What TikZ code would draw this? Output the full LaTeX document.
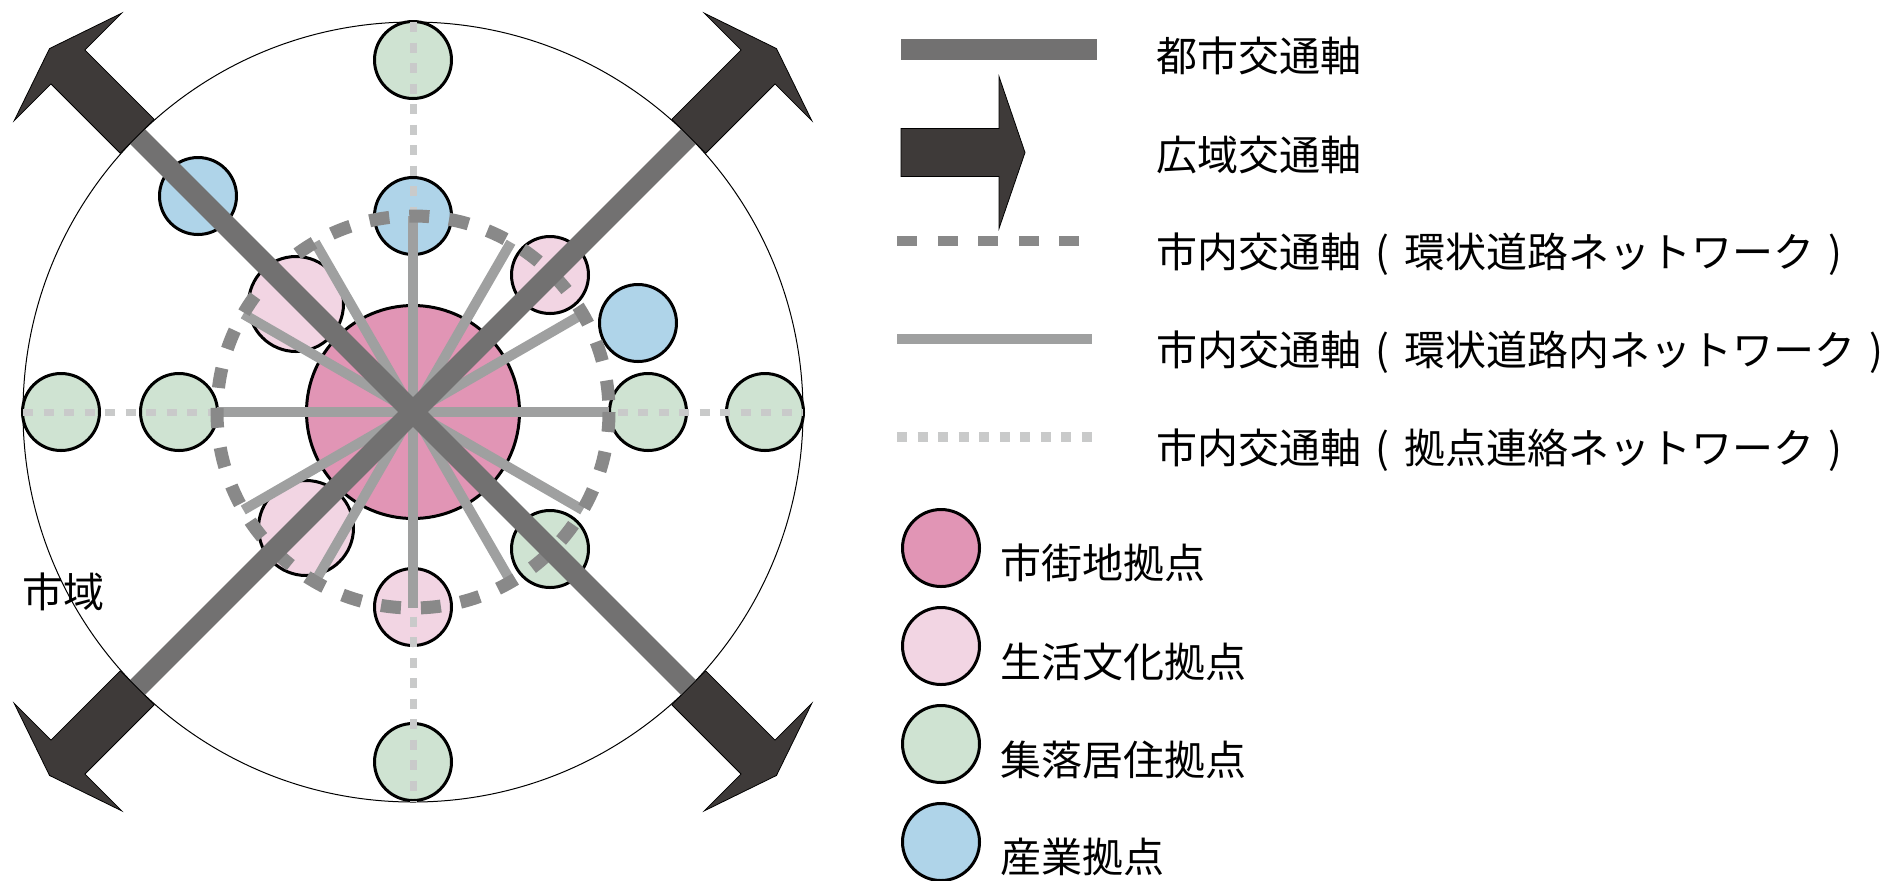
\documentclass[tikz,border=0pt]{standalone}
\usepackage{fontspec}
\newfontfamily\jpfont{Noto Sans CJK JP}
\definecolor{hubpink}{HTML}{E195B5}
\definecolor{lifepink}{HTML}{F2D5E3}
\definecolor{villagegreen}{HTML}{CFE3D2}
\definecolor{industryblue}{HTML}{AFD4E9}
\definecolor{arrowdark}{HTML}{3E3A39}
\definecolor{axisgray}{HTML}{727171}
\definecolor{spokegray}{HTML}{9FA0A0}
\definecolor{ringgray}{HTML}{898989}
\definecolor{linkgray}{HTML}{C9CACA}
\newcommand\jlparen{\makebox[1.05em]{(}}
\newcommand\jrparen{\makebox[1.05em]{)}}
\tikzset{
  spot/.style={circle, draw=black, line width=1.5pt, inner sep=0pt, outer sep=0pt, minimum size=38.5pt},
  hubspot/.style={spot, fill=hubpink, minimum size=106.5pt},
  lifespot/.style={spot, fill=lifepink},
  lifebig/.style={spot, fill=lifepink, minimum size=47.5pt},
  villagespot/.style={spot, fill=villagegreen},
  industryspot/.style={spot, fill=industryblue},
  cityaxis/.style={draw=axisgray, line width=10.5pt},
  spoke/.style={draw=spokegray, line width=5pt},
  ringroad/.style={draw=ringgray, line width=6.5pt, dash pattern=on 10pt off 10pt},
  linkline/.style={draw=linkgray, line width=3.5pt, dash pattern=on 5pt off 5.25pt},
  arrowbody/.style={fill=arrowdark, draw=black, line width=0.4pt},
  jptext/.style={font=\jpfont\fontsize{20.5pt}{24pt}\selectfont, text=black, anchor=west,
    inner sep=0pt, outer sep=0pt, text height=18pt, text depth=2.5pt},
  widearrow/.pic={
    \path[arrowbody] (390,-24) -- (488,-24) -- (488,-76) -- (514,0) -- (488,76)
      -- (488,24) -- (390,24) -- cycle;
  },
}
\begin{document}
\begin{tikzpicture}[x=0.5pt,y=-0.5pt]
\useasboundingbox (0,0) rectangle (1895,880);
% city area
\node[circle, draw=black, line width=0.5pt, inner sep=0pt, outer sep=0pt, minimum size=390pt] (city) at (413,412) {};
% bases
\node[hubspot] (hub) at (413,412) {};
\node[villagespot] (vtop) at (413,60) {};
\node[industryspot] (itop) at (413,216) {};
\node[industryspot] (iul) at (198,196) {};
\node[lifebig] (lul) at (296,304) {};
\node[lifespot] (lur) at (550,275) {};
\node[industryspot] (iright) at (638,323) {};
\node[villagespot] (vlo) at (61,412) {};
\node[villagespot] (vli) at (179,412) {};
\node[villagespot] (vri) at (648,412) {};
\node[villagespot] (vro) at (765,412) {};
\node[lifebig] (lll) at (306,528) {};
\node[villagespot] (vlr) at (550,549) {};
\node[lifespot] (lbot) at (413,607) {};
\node[villagespot] (vbot) at (413,762) {};
% link network
\draw[linkline] (city.north) -- (city.south);
\draw[linkline] (city.west) -- (city.east);
% inner network spokes
\foreach \a in {0,30,...,330}{
  \coordinate (sp\a) at ([shift={(\a:196)}]hub.center);
  \draw[spoke] (hub.center) -- (sp\a);
}
% ring road
\draw[ringroad] (hub.center) circle[radius=196];
% urban axes
\foreach \a in {45,135,225,315}{
  \coordinate (ax\a) at ([shift={(\a:390)}]hub.center);
}
\draw[cityaxis] (ax45) -- (ax225);
\draw[cityaxis] (ax135) -- (ax315);
% wide area arrows
\foreach \a in {45,135,225,315}{
  \pic[rotate=\a] at (hub.center) {widearrow};
}
\node[jptext] (cityname) at (23,592) {市域};
% legend
\coordinate (k1a) at (901,49.5); \coordinate (k1b) at (1097,49.5);
\draw[cityaxis] (k1a) -- (k1b);
\coordinate (k2) at (511,152.5);
\pic at (k2) {widearrow};
\coordinate (k3a) at (897,241); \coordinate (k3b) at (1080,241);
\draw[ringroad, line width=5pt, dash pattern=on 10pt off 10.3pt] (k3a) -- (k3b);
\coordinate (k4a) at (897,339); \coordinate (k4b) at (1092,339);
\draw[spoke] (k4a) -- (k4b);
\coordinate (k5a) at (897,436.5); \coordinate (k5b) at (1091.5,436.5);
\draw[linkline, line width=5pt] (k5a) -- (k5b);
\node[jptext] (t1) at (1156,56) {都市交通軸};
\node[jptext] (t2) at (1156,154.5) {広域交通軸};
\node[jptext] (t3) at (1156,252) {市内交通軸\jlparen 環状道路ネットワーク\jrparen};
\node[jptext] (t4) at (1156,350) {市内交通軸\jlparen 環状道路内ネットワーク\jrparen};
\node[jptext] (t5) at (1156,448) {市内交通軸\jlparen 拠点連絡ネットワーク\jrparen};
\node[spot, fill=hubpink] (k6) at (941,548) {};
\node[lifespot] (k7) at (941,646) {};
\node[villagespot] (k8) at (941,744) {};
\node[industryspot] (k9) at (941,842) {};
\node[jptext] (t6) at (1000,563) {市街地拠点};
\node[jptext] (t7) at (1000,662) {生活文化拠点};
\node[jptext] (t8) at (1000,760) {集落居住拠点};
\node[jptext] (t9) at (1000,857) {産業拠点};
\end{tikzpicture}
\end{document}
